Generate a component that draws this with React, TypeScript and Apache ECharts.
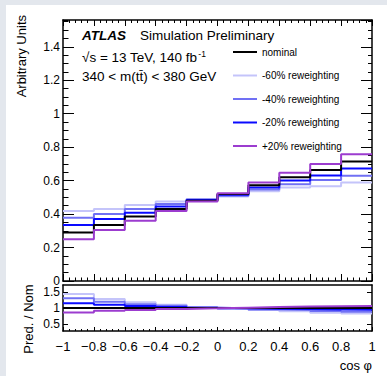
import React, { useEffect, useRef } from "react";
import * as echarts from "echarts";

// ---- data ----
const binEdges = [-1, -0.8, -0.6, -0.4, -0.2, 0, 0.2, 0.4, 0.6, 0.8, 1];
const xTickValues = [-1, -0.8, -0.6, -0.4, -0.2, 0, 0.2, 0.4, 0.6, 0.8, 1];
const xTickLabels = ["−1", "−0.8", "−0.6", "−0.4", "−0.2", "0", "0.2", "0.4", "0.6", "0.8", "1"];
const mainYTickValues = [0, 0.2, 0.4, 0.6, 0.8, 1, 1.2, 1.4];
const mainYTickLabels = ["0", "0.2", "0.4", "0.6", "0.8", "1", "1.2", "1.4"];
const ratioYTickValues = [0.5, 1, 1.5];
const ratioYTickLabels = ["0.5", "1", "1.5"];

const nominal = [0.29, 0.335, 0.385, 0.43, 0.48, 0.52, 0.573, 0.62, 0.663, 0.714];
const rwMinus60 = [0.418, 0.43, 0.455, 0.475, 0.49, 0.505, 0.537, 0.559, 0.567, 0.589];
const rwMinus40 = [0.378, 0.4, 0.43, 0.46, 0.487, 0.51, 0.547, 0.579, 0.603, 0.629];
const rwMinus20 = [0.334, 0.37, 0.408, 0.445, 0.484, 0.515, 0.559, 0.601, 0.631, 0.673];
const rwPlus20 = [0.25, 0.305, 0.36, 0.418, 0.475, 0.525, 0.589, 0.647, 0.699, 0.758];

const seriesNames = ["nominal", "-60% reweighting", "-40% reweighting", "-20% reweighting", "+20% reweighting"];
const seriesValues = [nominal, rwMinus60, rwMinus40, rwMinus20, rwPlus20];
const seriesColors = ["#000000", "#c4c4fa", "#7070f4", "#0a0aff", "#9c3ccf"];
const seriesZ = [4, 2, 2, 3, 5];

const FONT = "'Liberation Sans', Arial, Helvetica, sans-serif";

function stepPoints(vals: number[]) {
  const pts = vals.map((v, i) => [binEdges[i], v]);
  pts.push([binEdges[binEdges.length - 1], vals[vals.length - 1]]);
  return pts;
}

function fmtFrom(values: number[], labels: string[]) {
  return (v: number) => {
    const idx = values.findIndex((t) => Math.abs(t - v) < 1e-6);
    return idx >= 0 ? labels[idx] : "";
  };
}

const black = { color: "#000", width: 1.5 };

export default function App() {
  const ref = useRef<HTMLDivElement>(null);
  useEffect(() => {
    if (!ref.current) return;
    const chart = echarts.init(ref.current, undefined, { renderer: "svg" });

    const xBase = (gridIndex: number, position: string, tickLen: number, minorLen: number, showLabel: boolean, showTicks = true) => ({
      type: "value",
      gridIndex,
      position,
      min: -1,
      max: 1,
      interval: 0.2,
      axisLine: { show: true, onZero: false, lineStyle: black },
      axisTick: { show: showTicks, inside: true, length: tickLen, lineStyle: { color: "#000", width: 1 } },
      minorTick: { show: showTicks, splitNumber: 5, length: minorLen, lineStyle: { color: "#000", width: 1 } },
      splitLine: { show: false },
      minorSplitLine: { show: false },
      axisLabel: {
        show: showLabel,
        formatter: fmtFrom(xTickValues, xTickLabels),
        fontSize: 13,
        fontFamily: FONT,
        color: "#000",
        margin: 9,
        showMinLabel: true,
        showMaxLabel: true,
      },
    });

    const yMain = (position: string, interval: number, len: number, showLabel: boolean, showLine: boolean) => ({
      type: "value",
      gridIndex: 0,
      position,
      min: 0,
      max: 1.56,
      interval,
      axisLine: { show: showLine, onZero: false, lineStyle: black },
      axisTick: { show: true, inside: true, length: len, lineStyle: { color: "#000", width: 1 } },
      splitLine: { show: false },
      axisLabel: {
        show: showLabel,
        formatter: fmtFrom(mainYTickValues, mainYTickLabels),
        fontSize: 12,
        lineHeight: 10,
        fontFamily: FONT,
        color: "#000",
        margin: 3,
        showMaxLabel: false,
      },
    });

    const yRatio = (position: string, showLabel: boolean) => ({
      type: "value",
      gridIndex: 1,
      position,
      min: 0.28,
      max: 1.72,
      axisLine: { show: true, onZero: false, lineStyle: black },
      axisTick: { show: true, inside: true, length: 5, customValues: ratioYTickValues, lineStyle: { color: "#000", width: 1 } },
      splitLine: { show: false },
      axisLabel: {
        show: showLabel,
        customValues: ratioYTickValues,
        formatter: fmtFrom(ratioYTickValues, ratioYTickLabels),
        fontSize: 12,
        lineHeight: 10,
        fontFamily: FONT,
        color: "#000",
        margin: 3,
      },
    });

    const series: any[] = [];
    seriesNames.forEach((name, i) => {
      series.push({
        type: "line",
        name,
        xAxisIndex: 0,
        yAxisIndex: 0,
        step: "end",
        symbol: "none",
        data: stepPoints(seriesValues[i]),
        lineStyle: { color: seriesColors[i], width: 2 },
        itemStyle: { color: seriesColors[i] },
        z: seriesZ[i],
        clip: true,
      });
    });
    seriesNames.forEach((name, i) => {
      const ratio = seriesValues[i].map((v, k) => v / nominal[k]);
      series.push({
        type: "line",
        name,
        xAxisIndex: 2,
        yAxisIndex: 4,
        step: "end",
        symbol: "none",
        data: stepPoints(ratio),
        lineStyle: { color: seriesColors[i], width: 2 },
        itemStyle: { color: seriesColors[i] },
        z: seriesZ[i],
        clip: true,
      });
    });

    const labelSize = 13.5;

    const option: any = {
      animation: false,
      backgroundColor: "#ffffff",
      textStyle: { fontFamily: FONT },
      grid: [
        { left: 63, top: 20, width: 309, height: 261 },
        { left: 63, top: 285, width: 309, height: 46 },
      ],
      xAxis: [
        xBase(0, "bottom", 7, 3.5, false),
        xBase(0, "top", 6, 3, false),
        xBase(1, "bottom", 4, 2, true),
        xBase(1, "top", 0, 0, false, false),
      ],
      yAxis: [
        yMain("left", 0.2, 11, true, true),
        yMain("left", 0.05, 5.5, false, false),
        yMain("right", 0.2, 11, false, true),
        yMain("right", 0.05, 4, false, false),
        yRatio("left", true),
        yRatio("right", false),
      ],
      legend: {
        orient: "vertical",
        left: 233,
        top: 46,
        padding: 0,
        itemWidth: 24,
        itemHeight: 2,
        itemGap: 11.5,
        icon: "rect",
        data: seriesNames,
        selectedMode: false,
        textStyle: { fontSize: 10, fontFamily: FONT, color: "#000", lineHeight: 12 },
      },
      graphic: [
        { type: "rect", z: 100, shape: { x: 0, y: 0, width: 387, height: 5 }, style: { fill: "#e3e7ed" } },
        { type: "rect", z: 100, shape: { x: 0, y: 0, width: 6, height: 376 }, style: { fill: "#e3e7ed" } },
        {
          type: "text", x: 82, y: 35,
          style: { text: "ATLAS", fontSize: 13.5, fontWeight: "bold", fontStyle: "italic", fontFamily: FONT, fill: "#000", verticalAlign: "middle" },
        },
        {
          type: "text", x: 140, y: 35,
          style: { text: "Simulation Preliminary", fontSize: labelSize, fontFamily: FONT, fill: "#000", verticalAlign: "middle" },
        },
        {
          type: "text", x: 82, y: 57,
          style: {
            text: "{a|√s = 13 TeV, 140 fb}{s|-1}",
            fontFamily: FONT,
            fill: "#000",
            verticalAlign: "middle",
            rich: {
              a: { fontSize: labelSize, lineHeight: 16, fontFamily: FONT, fill: "#000" },
              s: { fontSize: 8.5, lineHeight: 4, verticalAlign: "top", fontFamily: FONT, fill: "#000", padding: [0, 0, 0, 1] },
            },
          },
        },
        {
          type: "text", x: 82, y: 76,
          style: { text: "340 < m(tt̄) < 380 GeV", fontSize: labelSize, fontFamily: FONT, fill: "#000", verticalAlign: "middle" },
        },
        {
          type: "text", x: 21, y: 15, rotation: Math.PI / 2,
          style: { text: "Arbitrary Units", fontSize: 13, fontFamily: FONT, fill: "#000", align: "right", verticalAlign: "middle" },
        },
        {
          type: "text", x: 28, y: 319, rotation: Math.PI / 2,
          style: { text: "Pred. / Nom", fontSize: 13, fontFamily: FONT, fill: "#000", align: "center", verticalAlign: "middle" },
        },
        {
          type: "text", x: 372, y: 365,
          style: { text: "cos φ", fontSize: 13, fontFamily: FONT, fill: "#000", align: "right", verticalAlign: "middle" },
        },
      ],
      series,
    };

    chart.setOption(option);
    return () => chart.dispose();
  }, []);

  return (
    <div
      ref={ref}
      style={{ position: "fixed", left: 0, top: 0, width: 387, height: 376 }}
    />
  );
}
